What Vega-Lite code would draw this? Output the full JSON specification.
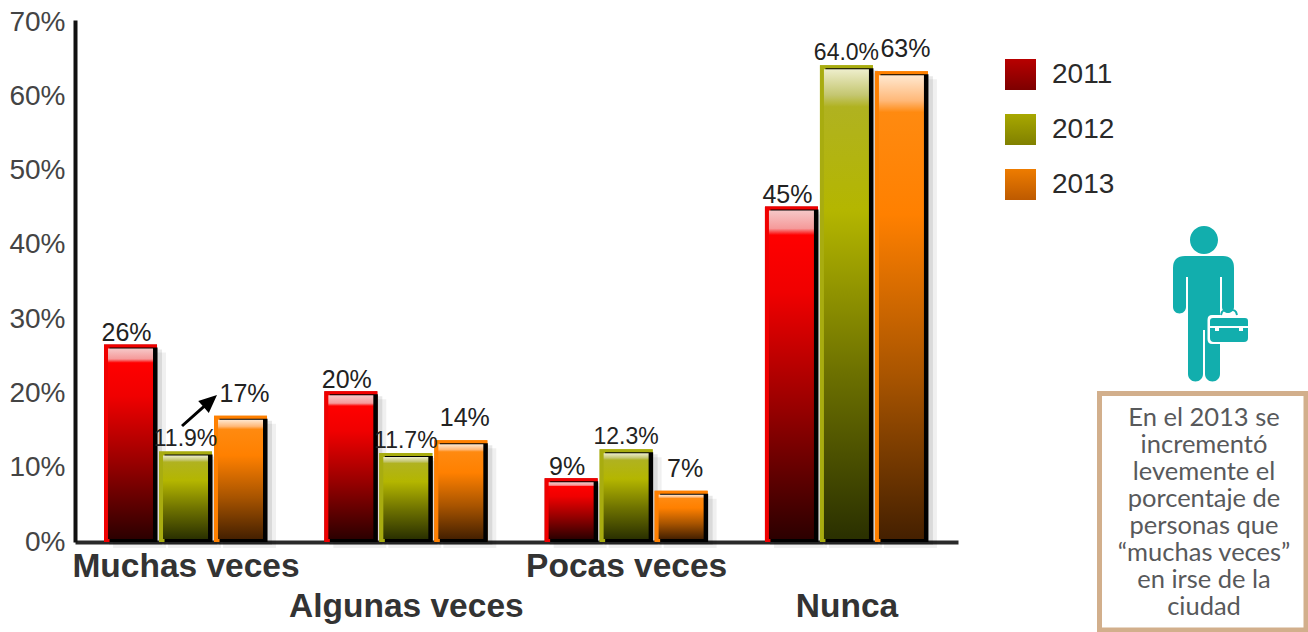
{
"$schema":"https://vega.github.io/schema/vega-lite/v6.json",
"width":883,"height":522,"autosize":"none",
"padding":{"left":75,"top":20,"right":350,"bottom":90},
"background":"white",
"config":{"view":{"stroke":null},"font":"Liberation Sans"},
"layer":[
{
 "data":{"values":[
  {"category":"Muchas veces","year":"2011","value":26.6,"label":"26%"},
  {"category":"Muchas veces","year":"2012","value":12.2,"label":"11.9%"},
  {"category":"Muchas veces","year":"2013","value":17.0,"label":"17%"},
  {"category":"Algunas veces","year":"2011","value":20.3,"label":"20%"},
  {"category":"Algunas veces","year":"2012","value":12.0,"label":"11.7%"},
  {"category":"Algunas veces","year":"2013","value":13.7,"label":"14%"},
  {"category":"Pocas veces","year":"2011","value":8.6,"label":"9%"},
  {"category":"Pocas veces","year":"2012","value":12.5,"label":"12.3%"},
  {"category":"Pocas veces","year":"2013","value":6.9,"label":"7%"},
  {"category":"Nunca","year":"2011","value":45.2,"label":"45%"},
  {"category":"Nunca","year":"2012","value":64.2,"label":"64.0%"},
  {"category":"Nunca","year":"2013","value":63.4,"label":"63%"}
 ]},
 "encoding":{
  "x":{"field":"category","type":"nominal","sort":["Muchas veces","Algunas veces","Pocas veces","Nunca"],
   "scale":{"paddingInner":0.25,"paddingOuter":0.129},
   "axis":{"title":null,"labelAngle":0,"labelFontSize":33.5,"labelFontWeight":"bold","labelColor":"#333333","labelFont":"Liberation Sans",
    "labelExpr":"datum.label=='Algunas veces'||datum.label=='Nunca'?['',datum.label]:datum.label",
    "labelLineHeight":40,"labelPadding":8,"labelOverlap":false,"labelLimit":400,"labelBound":false,"ticks":false,"domainColor":"#2a2a2a","domainWidth":4}},
  "y":{"field":"value","type":"quantitative","scale":{"domain":[0,70.3],"nice":false},
   "axis":{"title":null,"values":[0,10,20,30,40,50,60,70],"labelExpr":"datum.value+'%'","labelFontSize":28,"labelColor":"#444444","labelFont":"Liberation Sans","labelPadding":10,"ticks":false,"grid":false,"domainColor":"#111111","domainWidth":4}}
 },
 "layer":[
  {"mark":{"type":"bar","width":53,"opacity":0.09,"y2Offset":3,"yOffset":5},
   "encoding":{"y2":{"datum":0},"xOffset":{"field":"year","type":"nominal","scale":{"paddingInner":0.04,"paddingOuter":0,"range":[5.7,168.5]}},"color":{"value":"#000000"}}},
  {"mark":{"type":"bar","width":53,"opacity":0.06,"y2Offset":6,"yOffset":8},
   "encoding":{"y2":{"datum":0},"xOffset":{"field":"year","type":"nominal","scale":{"paddingInner":0.04,"paddingOuter":0,"range":[9.7,172.5]}},"color":{"value":"#000000"}}},
  {"mark":{"type":"bar","width":53},
   "encoding":{"y2":{"datum":0},"xOffset":{"field":"year","type":"nominal","scale":{"paddingInner":0.04,"paddingOuter":0,"range":[0.7,163.5]}},
    "fill":{"field":"year","type":"nominal","scale":{"domain":["2011","2012","2013"],"range":[
      {"expr":"{gradient:'linear',x1:0,y1:0,x2:0,y2:1,stops:[{offset:0,color:'#b80000'},{offset:1,color:'#7d0000'}]}"},
      {"expr":"{gradient:'linear',x1:0,y1:0,x2:0,y2:1,stops:[{offset:0,color:'#a8a800'},{offset:1,color:'#808000'}]}"},
      {"expr":"{gradient:'linear',x1:0,y1:0,x2:0,y2:1,stops:[{offset:0,color:'#ee7c00'},{offset:1,color:'#bd5a00'}]}"}]},
     "legend":{"title":null,"orient":"none","legendX":930,"legendY":39,"symbolType":"square","symbolSize":961,"symbolStrokeWidth":0,"labelFontSize":28,"labelColor":"#2a2a2a","labelFont":"Liberation Sans","labelOffset":16,"rowPadding":24}}}},
  {"mark":{"type":"bar","width":53},
   "encoding":{"y2":{"datum":0},"xOffset":{"field":"year","type":"nominal","scale":{"paddingInner":0.04,"paddingOuter":0,"range":[0.7,163.5]}},
    "fill":{"field":"year","type":"nominal","scale":{"domain":["2011","2012","2013"],"range":["#f00000","#a8ac10","#ff8000"]},"legend":null}}},
  {"mark":{"type":"bar","width":48,"yOffset":3,"color":"#000000"},
   "encoding":{"y2":{"datum":0},"xOffset":{"field":"year","type":"nominal","scale":{"paddingInner":0.04,"paddingOuter":0,"range":[3.7,166.5]}}}},
  {"mark":{"type":"bar","width":45,"yOffset":4,"y2Offset":-3},
   "encoding":{"y2":{"datum":0},"xOffset":{"field":"year","type":"nominal","scale":{"paddingInner":0.04,"paddingOuter":0,"range":[0.7,163.5]}},
    "fill":{"field":"year","type":"nominal","scale":{"domain":["2011","2012","2013"],"range":[
      {"expr":"{gradient:'linear',x1:0,y1:0,x2:0,y2:1,stops:[{offset:0,color:'#f6c8c8'},{offset:0.055,color:'#f59a9a'},{offset:0.075,color:'#ff0000'},{offset:0.25,color:'#f00000'},{offset:0.6,color:'#980000'},{offset:1,color:'#2c0000'}]}"},
      {"expr":"{gradient:'linear',x1:0,y1:0,x2:0,y2:1,stops:[{offset:0,color:'#eeeecc'},{offset:0.055,color:'#c4c670'},{offset:0.08,color:'#b0b220'},{offset:0.3,color:'#b4b600'},{offset:0.65,color:'#6c7000'},{offset:1,color:'#2a3000'}]}"},
      {"expr":"{gradient:'linear',x1:0,y1:0,x2:0,y2:1,stops:[{offset:0,color:'#ffe8d0'},{offset:0.055,color:'#ffb878'},{offset:0.08,color:'#ff8a10'},{offset:0.3,color:'#ff8000'},{offset:0.65,color:'#a85400'},{offset:1,color:'#452000'}]}"}]},
     "legend":null}}},
  {"encoding":{
    "xOffset":{"field":"year","type":"nominal","scale":{"paddingOuter":0,"range":[23.1,141.1]}},
    "text":{"field":"label","type":"nominal"},
    "color":{"value":"#222222"}},
   "layer":[
    {"transform":[{"filter":"datum.year=='2011'"}],"mark":{"type":"text","baseline":"alphabetic","align":"center","dy":-3,"fontSize":25}},
    {"transform":[{"filter":"datum.year=='2012'"}],"mark":{"type":"text","baseline":"alphabetic","align":"center","dy":-5,"fontSize":23}},
    {"transform":[{"filter":"datum.year=='2013'"}],"mark":{"type":"text","baseline":"alphabetic","align":"center","dy":-14,"fontSize":25}}
   ]}
 ],
 "resolve":{"scale":{"xOffset":"independent","fill":"independent"}}
},
{
 "encoding":{
  "x":{"field":"px","type":"quantitative","scale":{"domain":[75,958],"nice":false,"zero":false},"axis":null},
  "y":{"field":"py","type":"quantitative","scale":{"domain":[542,20],"nice":false,"zero":false},"axis":null}
 },
 "layer":[
  {"data":{"values":[{"name":"box","px":1099.5,"px2":1306,"py":393.5,"py2":630}]},
   "mark":{"type":"rect","fill":null,"stroke":"#d2af8c","strokeWidth":5},
   "encoding":{"x2":{"field":"px2"},"y2":{"field":"py2"}}},
  {"data":{"values":[{"name":"note","px":1204,"py":418,"note":"En el 2013 se\nincrementó\nlevemente el\nporcentaje de\npersonas que\n“muchas veces”\nen irse de la\nciudad"}]},
   "mark":{"type":"text","font":"Lato","fontSize":25.5,"fontWeight":400,"color":"#58595b","lineBreak":"\n","lineHeight":27,"align":"center","baseline":"middle"},
   "encoding":{"text":{"field":"note"}}},
  {"data":{"values":[{"name":"arrow","px":200,"py":410}]},
   "mark":{"type":"point","filled":true,"size":4,"opacity":1,"color":"#000000","strokeWidth":0,"shape":"M-19 14.9 L2.5 -4.2 L-1.8 -9.1 L17 -15 L8.8 2.9 L4.5 -2 L-17 17.1 Z"}},
  {"data":{"values":[{"name":"person","px":1204,"py":318}]},
   "layer":[
    {"mark":{"type":"point","filled":true,"size":4,"opacity":1,"color":"#12aead","strokeWidth":0,"shape":"M-14 -78 A14 14 0 1 0 14 -78 A14 14 0 1 0 -14 -78 Z M-31 -50 Q-31 -62 -19 -62 L19 -62 Q30 -62 30 -50 L30 -11 A6 6 0 0 1 18 -11 L18 -41 L16 -41 L16 56 A7.5 7.5 0 0 1 1 56 L1 12 L-1 12 L-1 56 A7.5 7.5 0 0 1 -16 56 L-16 -41 L-18 -41 L-18 -11 A6.5 6.5 0 0 1 -31 -11 Z"}},
    {"mark":{"type":"point","filled":true,"size":4,"opacity":1,"color":"#ffffff","strokeWidth":0,"shape":"M8 -3 L40 -3 Q44.5 -3 44.5 2 L44.5 21 Q44.5 26 40 26 L8 26 Q3.5 26 3.5 21 L3.5 2 Q3.5 -3 8 -3 Z"}},
    {"mark":{"type":"point","filled":true,"size":4,"opacity":1,"color":"#12aead","strokeWidth":0,"shape":"M9 0 L41 0 Q44 0 44 3 L44 8 L6 8 L6 3 Q6 0 9 0 Z M6 10 L11 10 L11 13 L15 13 L15 10 L35 10 L35 13 L39 13 L39 10 L44 10 L44 20 Q44 24 40 24 L10 24 Q6 24 6 20 Z"}},
    {"mark":{"type":"point","filled":false,"size":4,"opacity":1,"color":"#12aead","strokeWidth":2,"shape":"M17 -3 L18 -6 Q19 -8 22 -8 L28 -8 Q31 -8 32 -6 L33 -3"}}
   ]}
 ]
}
],
"resolve":{"scale":{"x":"independent","y":"independent"}}
}
